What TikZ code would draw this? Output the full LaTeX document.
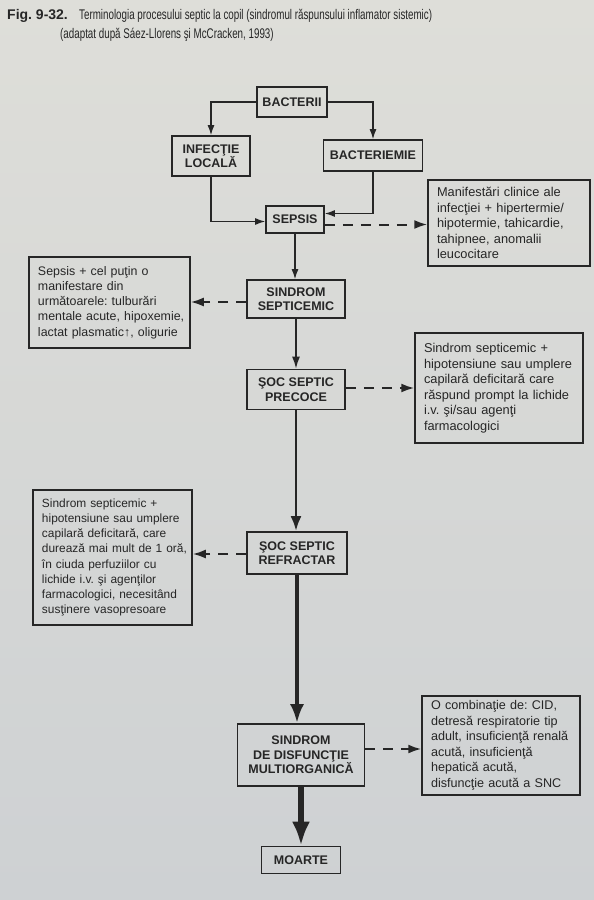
\documentclass[tikz,border=0pt]{standalone}
\usepackage{fontspec}
\setmainfont{Liberation Sans}
\newfontfamily\titlefont[FakeStretch=0.70]{Liberation Sans}
\usetikzlibrary{arrows.meta}
\definecolor{ink}{RGB}{38,38,38}
\definecolor{bgtop}{RGB}{222,222,217}
\definecolor{bgbot}{RGB}{206,209,211}
\frenchspacing
\begin{document}
\begin{tikzpicture}[x=1pt,y=-1pt,
  mainbox/.style={draw=ink, line width=1.7pt, text=ink, align=center, inner sep=0pt,
    font=\fontsize{12.5}{14.5}\selectfont\bfseries},
  sidebox/.style={draw=ink, line width=1.5pt, text=ink, align=left, inner sep=0pt,
    execute at begin node={\frenchspacing\leftskip=9pt\hyphenpenalty=10000\exhyphenpenalty=10000},
    font=\fontsize{12.8}{15.5}\selectfont},
  thinarrow/.style={draw=ink, line width=1.3pt, -{Latex[length=10pt,width=7pt]}},
  arrowB/.style={draw=ink, line width=1.5pt, -{Latex[length=12pt,width=8pt]}},
  arrowC/.style={draw=ink, line width=2.8pt, -{Latex[length=15pt,width=11pt]}},
  arrowD/.style={draw=ink, line width=3.8pt, -{Latex[length=19pt,width=14pt]}},
  arrowE/.style={draw=ink, line width=6pt, -{Latex[length=24pt,width=18pt]}},
  dasharrow/.style={draw=ink, line width=2pt, dash pattern=on 10pt off 8pt, -{Latex[length=13pt,width=9pt]}}
]
\shade[top color=bgtop, bottom color=bgbot] (0,0) rectangle (594,900);
\useasboundingbox (0,0) rectangle (594,900);

% title
\node[anchor=base west, inner sep=0pt, text=ink, font=\fontsize{14}{16}\selectfont\bfseries] (figno) at (7,19) {Fig. 9-32.};
\node[anchor=base west, inner sep=0pt, text=ink, font=\fontsize{14}{16}\titlefont] (title) at (79,19) {Terminologia procesului septic la copil (sindromul răspunsului inflamator sistemic)};
\node[anchor=base west, inner sep=0pt, text=ink, font=\fontsize{14}{16}\titlefont] (subtitle) at (60,38) {(adaptat după Sáez-Llorens şi McCracken, 1993)};

% main chain
\node[mainbox, minimum width=70, minimum height=30] (bact) at (292,102) {BACTERII};
\node[mainbox, minimum width=78, minimum height=40] (inf) at (211,156) {INFECŢIE\\LOCALĂ};
\node[mainbox, minimum width=99, minimum height=31] (bactm) at (373,155.5) {BACTERIEMIE};
\node[mainbox, minimum width=58, minimum height=27] (sepsis) at (295,219.5) {SEPSIS};
\node[mainbox, minimum width=98, minimum height=38] (sept) at (296,299) {SINDROM\\SEPTICEMIC};
\node[mainbox, minimum width=98, minimum height=40] (prec) at (296,389.5) {ŞOC SEPTIC\\PRECOCE};
\node[mainbox, minimum width=100, minimum height=42] (refr) at (297,553) {ŞOC SEPTIC\\REFRACTAR};
\node[mainbox, minimum width=127, minimum height=62] (multi) at (301,755) {SINDROM\\DE DISFUNCŢIE\\MULTIORGANICĂ};
\node[mainbox, minimum width=79, minimum height=27] (moarte) at (301,860) {MOARTE};

% side boxes
\node[sidebox, text width=162, minimum height=86] (manif) at (509,223)
  {Manifestări clinice ale\\infecţiei + hipertermie/\\hipotermie, tahicardie,\\tahipnee, anomalii\\leucocitare};
\node[sidebox, text width=161, minimum height=91, font=\fontsize{12.4}{15.2}\selectfont] (sepsplus) at (109.5,302.5)
  {Sepsis + cel puţin o\\manifestare din\\următoarele: tulburări\\mentale acute, hipoxemie,\\lactat plasmatic↑, oligurie};
\node[sidebox, text width=168, minimum height=110] (precbox) at (499,388)
  {Sindrom septicemic +\\hipotensiune sau umplere\\capilară deficitară care\\răspund prompt la lichide\\i.v. şi/sau agenţi\\farmacologici};
\node[sidebox, text width=159, minimum height=135, font=\fontsize{11.9}{15.2}\selectfont] (refrbox) at (112.5,557.5)
  {Sindrom septicemic +\\hipotensiune sau umplere\\capilară deficitară, care\\durează mai mult de 1 oră,\\în ciuda perfuziilor cu\\lichide i.v. şi agenţilor\\farmacologici, necesitând\\susţinere vasopresoare};
\node[sidebox, text width=158, minimum height=99, font=\fontsize{12.6}{15.5}\selectfont] (multibox) at (501,745.5)
  {O combinaţie de: CID,\\detresă respiratorie tip\\adult, insuficienţă renală\\acută, insuficienţă\\hepatică acută,\\disfuncţie acută a SNC};

% connectors
\draw[thinarrow] (bact.west) -| (inf.north);
\draw[thinarrow] (bact.east) -| (bactm.north);
\draw[thinarrow] (inf.south) |- ([yshift=-2pt]sepsis.west);
\draw[thinarrow] (bactm.south) |- ([yshift=6pt]sepsis.east);
\draw[dasharrow] ([yshift=-5pt]sepsis.east) -- ([yshift=-5pt]sepsis.east -| manif.west);
\draw[thinarrow] (sepsis.south) -- (sepsis.south |- sept.north);
\draw[dasharrow] ([yshift=-3pt]sept.west) -- ([yshift=-3pt]sept.west -| sepsplus.east);
\draw[arrowB] (sept.south) -- (sept.south |- prec.north);
\draw[dasharrow] ([yshift=1.5pt]prec.east) -- ([yshift=1.5pt]prec.east -| precbox.west);
\draw[arrowC] (prec.south) -- (prec.south |- refr.north);
\draw[dasharrow] ([yshift=-1pt]refr.west) -- ([yshift=-1pt]refr.west -| refrbox.east);
\draw[arrowD] (refr.south) -- (refr.south |- multi.north);
\draw[dasharrow] ([yshift=6pt]multi.east) -- ([yshift=6pt]multi.east -| multibox.west);
\draw[arrowE] (multi.south) -- (multi.south |- moarte.north);
\end{tikzpicture}
\end{document}
